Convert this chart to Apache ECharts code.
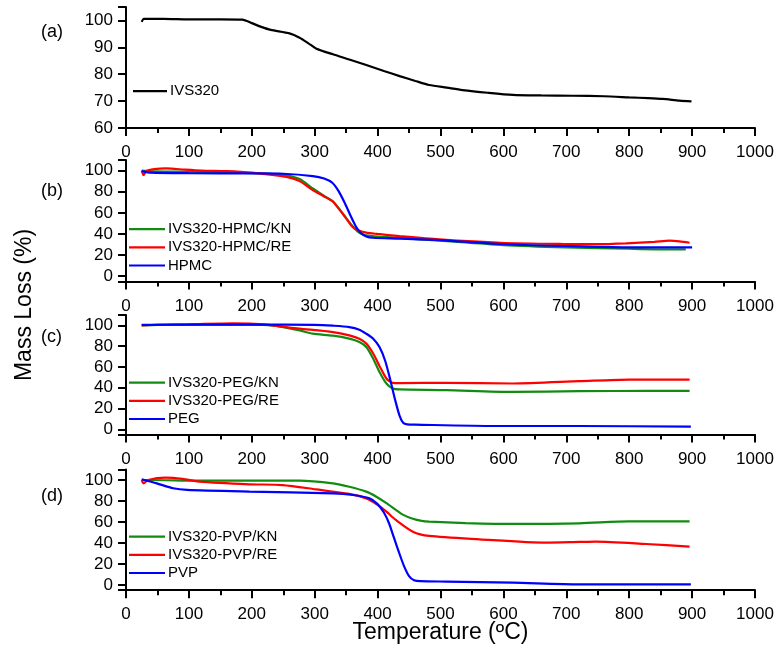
<!DOCTYPE html>
<html><head><meta charset="utf-8">
<script src="https://cdn.jsdelivr.net/npm/echarts@6/dist/echarts.min.js"></script>
<style>html,body{margin:0;padding:0;background:#fff}#c{width:779px;height:651px}</style>
</head><body><div id="c"></div>
<script>
// Panel (a)
const aT_IVS = [25,28,35,60,100,150,185,200,215,230,260,276,290,302,329,355,382,410,435,460,482,510,535,575,615,660,710,760,800,830,853,880,899];
const aV_IVS = [99.5,100.6,100.6,100.6,100.4,100.4,100.3,99.0,97.6,96.5,95.2,93.6,91.5,89.6,87.4,85.5,83.4,81.2,79.3,77.5,76.0,75.0,74.1,73.1,72.3,72.1,72.0,71.8,71.4,71.1,70.8,70.2,69.9];
// Panel (b)
const bT_KN = [25,40,100,150,200,250,276,297,315,329,340,350,360,368,375,382,400,435,500,600,700,800,864,890];
const bV_KN = [100,99.2,99,98.5,97.5,96,92,83,76,71,63,55,47.5,42.5,40,38.8,37.5,36.3,33.6,29.5,27.3,26,25.4,25.4];
const bT_RE = [25,28,32,45,63,80,120,160,200,255,276,297,315,329,340,350,360,368,382,400,435,498,596,695,750,795,840,864,880,896];
const bV_RE = [100,95.8,99.5,101.3,102,101.5,100,99.5,98,94,90,81.5,75.5,70.5,62.5,54.8,46.8,43.7,41.2,40,38,34.9,31.7,30.5,30.3,31.1,32.5,33.6,33,31.7];
const bT_HP = [25,40,100,200,250,297,315,328,338,348,358,366,374,382,392,435,498,596,695,795,864,900];
const bV_HP = [99.5,98,97.5,97.3,97,94.8,92.5,88.5,80.5,69,56,46.5,40.5,37.6,36.4,35.6,34.2,30.5,28.6,27.3,27.3,27.3];
// Panel (c)
const cT_KN = [25,50,100,150,200,230,250,276,297,329,355,371,382,393,403,414,424,435,509,615,721,827,896];
const cV_KN = [100,100.5,100.8,100.8,100.6,100,98.4,95.2,92,90.1,87.2,84,79.2,68,55.2,44.1,39.3,38.4,37.7,36,36.7,36.9,36.9];
const cT_RE = [25,50,100,170,220,250,276,329,355,371,382,393,403,414,424,435,509,615,721,800,896];
const cV_RE = [100,100.6,101,102,101,98.5,96.8,93.6,90.4,87.2,82.5,72.9,61,48.9,44.7,44.5,44.7,44.1,46.3,47.9,47.9];
const cT_PEG = [25,100,200,300,329,355,371,382,393,403,412,420,428,435,441,447,460,588,720,898];
const cV_PEG = [100.5,100.7,100.7,100.5,99.7,98.4,95.9,92,87.2,79.2,66,48,28,13,6,4.8,4.5,3.2,3.2,2.5];
// Panel (d)
const dT_KN = [25,38,116,196,276,329,355,382,398,414,429,440,456,470,482,540,615,721,800,896];
const dV_KN = [100,100,99.4,99.4,99.4,96.8,93.6,88.9,84.1,78,71.5,67,63,61,60.3,59,58.1,58.7,60.6,60.6];
const dT_RE = [25,28,35,63,90,116,196,249,302,355,382,398,414,429,456,482,562,668,721,747,827,896];
const dV_RE = [100,96.8,100,102.2,101,98.4,95.9,95.2,91.1,86.7,82.5,77.1,69.8,61.9,50.8,46.7,43.5,40.3,41,41.3,39,36.5];
const dT_PVP = [25,49,75,97,196,329,361,387,400,410,418,426,434,442,450,458,468,509,615,721,898];
const dV_PVP = [100.7,96.8,92.1,90.5,88.9,87.3,85.7,82.5,77,69,59,45,31,18,8.5,4.5,3.6,3.2,2.2,0.6,0.6];

// Tick labels
const yLabelsA = [60,70,80,90,100];
const yLabels = [0,20,40,60,80,100];
const panelLabels = ['(a)','(b)','(c)','(d)'];

const FONT = 'Arial, "Liberation Sans", sans-serif';
const zip = (t, v) => t.map((x, i) => [x, v[i]]);
const BLACK2 = {color:'#000', width:2};

const L = 126, R = 24;
const panels = [
  {top:7, height:121, yMin:60, yMax:105},
  {top:160, height:121.5, yMin:-5, yMax:110},
  {top:315, height:119.5, yMin:-5, yMax:110},
  {top:469.5, height:120.7, yMin:-5, yMax:110}
];

const grid = [], xAxis = [], yAxis = [];
panels.forEach((p,i)=>{
  grid.push({left:L, right:R, top:p.top, height:p.height});
  xAxis.push({gridIndex:i, type:'value', min:0, max:1000, interval:100,
    axisLine:{show:true, onZero:false, lineStyle:BLACK2}, splitLine:{show:false},
    axisTick:{show:true, length:8, lineStyle:BLACK2},
    minorTick:{show:true, splitNumber:2, length:5, lineStyle:BLACK2},
    axisLabel:{color:'#000', fontSize:17, fontFamily:FONT, margin:16, formatter:v=>String(v)}});
  yAxis.push({gridIndex:i, type:'value', min:p.yMin, max:p.yMax,
    axisLine:{show:true, onZero:false, lineStyle:BLACK2}, splitLine:{show:false},
    axisTick:{show:true, length:8, lineStyle:BLACK2},
    axisLabel:{color:'#000', fontSize:17, fontFamily:FONT, margin:13, customValues: i===0 ? yLabelsA : yLabels}});
});

function line(name, t, v, color, gi){
  return {type:'line', name, data:zip(t,v), xAxisIndex:gi, yAxisIndex:gi,
    symbol:'none', showSymbol:false, smooth:0.25, lineStyle:{color, width:2.2}, itemStyle:{color}};
}
const GREEN='#118c11', RED='#ff0000', BLUE='#0000ff';
const series = [
  line('IVS320', aT_IVS, aV_IVS, '#000', 0),
  line('IVS320-HPMC/KN', bT_KN, bV_KN, GREEN, 1),
  line('IVS320-HPMC/RE', bT_RE, bV_RE, RED, 1),
  line('HPMC', bT_HP, bV_HP, BLUE, 1),
  line('IVS320-PEG/KN', cT_KN, cV_KN, GREEN, 2),
  line('IVS320-PEG/RE', cT_RE, cV_RE, RED, 2),
  line('PEG', cT_PEG, cV_PEG, BLUE, 2),
  line('IVS320-PVP/KN', dT_KN, dV_KN, GREEN, 3),
  line('IVS320-PVP/RE', dT_RE, dV_RE, RED, 3),
  line('PVP', dT_PVP, dV_PVP, BLUE, 3)
];
const legendTops = [82, 220, 373.5, 527.5];
const legendNames = [['IVS320'],['IVS320-HPMC/KN','IVS320-HPMC/RE','HPMC'],['IVS320-PEG/KN','IVS320-PEG/RE','PEG'],['IVS320-PVP/KN','IVS320-PVP/RE','PVP']];
const legend = legendNames.map((names,i)=>({
  data:names, orient:'vertical', left: i===0 ? 133 : 129, top:legendTops[i], padding:0,
  icon:'rect', itemWidth: i===0 ? 34 : 36, itemHeight:2.2, itemGap:0, selectedMode:false,
  textStyle:{color:'#000', fontSize:15, fontFamily:FONT, lineHeight:18.2, padding:[0,0,0,-2]}
}));
const labelCenters = [33, 192, 338, 497];
const graphic = panelLabels.map((s,i)=>({type:'text', left:41, top:labelCenters[i]-10,
  style:{text:s, fill:'#000', font:'18px '+FONT}}));
graphic.push({type:'text', x:25, y:305, rotation:Math.PI/2,
  style:{text:'Mass Loss (%)', fill:'#000', font:'23px '+FONT, align:'center', verticalAlign:'middle'}});
graphic.push({type:'text', x:440.5, y:633,
  style:{text:'Temperature (ºC)', fill:'#000', font:'23px '+FONT, align:'center', verticalAlign:'middle'}});

const chart = echarts.init(document.getElementById('c'));
chart.setOption({animation:false, backgroundColor:'#fff', grid, xAxis, yAxis, series, legend, graphic});
</script></body></html>
